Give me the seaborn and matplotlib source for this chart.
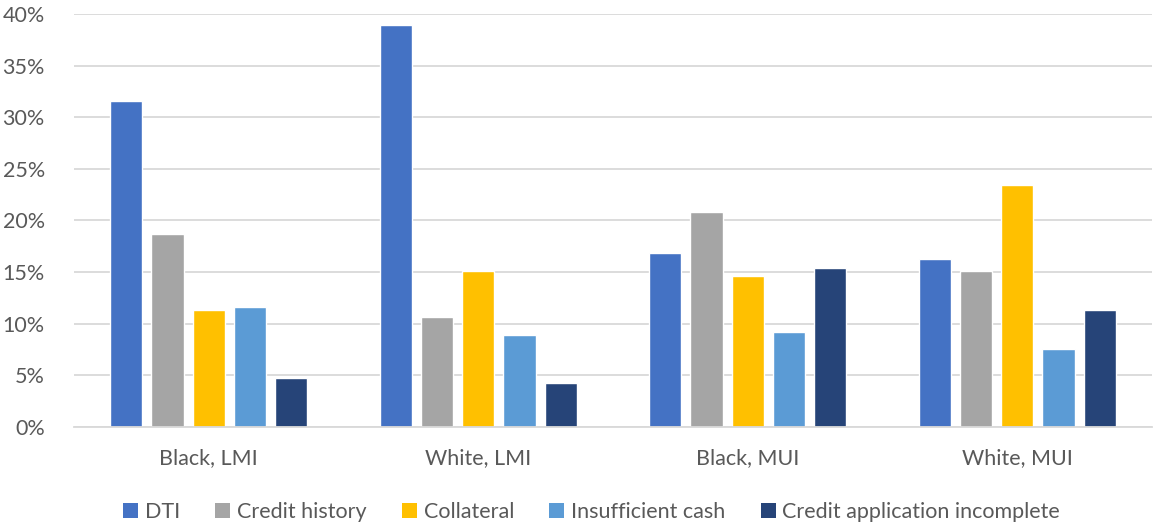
import matplotlib
matplotlib.use("Agg")
import matplotlib.pyplot as plt
import seaborn as sns
import pandas as pd
from matplotlib.ticker import PercentFormatter, MultipleLocator
from matplotlib.patches import Patch

# Datos
groups = ["Black, LMI", "White, LMI", "Black, MUI", "White, MUI"]
reasons = ["DTI", "Credit history", "Collateral", "Insufficient cash",
           "Credit application incomplete"]
dti = [31.6, 38.9, 16.9, 16.3]
credit_history = [18.7, 10.7, 20.8, 15.1]
collateral = [11.3, 15.1, 14.6, 23.4]
insufficient_cash = [11.6, 8.9, 9.2, 7.6]
credit_incomplete = [4.7, 4.3, 15.4, 11.3]

colors = ["#4472C4", "#A5A5A5", "#FFC000", "#5B9BD5", "#264478"]

series = [dti, credit_history, collateral, insufficient_cash, credit_incomplete]
rows = []
for reason, vals in zip(reasons, series):
    for g, v in zip(groups, vals):
        rows.append({"group": g, "reason": reason, "value": v})
df = pd.DataFrame(rows)

sns.set_style("white")
plt.rcParams["font.family"] = ["Lato", "DejaVu Sans"]
text_color = "#595959"

fig = plt.figure(figsize=(11.53, 5.26), dpi=100)
ax = fig.add_axes([74 / 1153, 1 - 427 / 526, 1078 / 1153, 413 / 526])

sns.barplot(data=df, x="group", y="value", hue="reason", order=groups,
            hue_order=reasons, palette=colors, width=0.765, gap=0.22,
            ax=ax, legend=False, saturation=1)

ax.set_ylim(0, 40)
ax.set_xlim(-0.5, 3.5)
ax.yaxis.set_major_locator(MultipleLocator(5))
ax.yaxis.set_major_formatter(PercentFormatter(decimals=0))
ax.grid(axis="y", color="#D9D9D9", linewidth=1.3)
ax.set_axisbelow(True)
for s in ["top", "right", "left"]:
    ax.spines[s].set_visible(False)
ax.spines["bottom"].set_color("#D9D9D9")
ax.spines["bottom"].set_linewidth(1.3)
ax.set_xlabel("")
ax.set_ylabel("")
ax.tick_params(axis="both", length=0, labelsize=15.5, colors=text_color)
ax.tick_params(axis="x", pad=15)
ax.tick_params(axis="y", pad=21)

handles = [Patch(facecolor=c, edgecolor="none") for c in colors]
fig.legend(handles, reasons, loc="lower center", ncol=5, frameon=False,
           bbox_to_anchor=(0.513, -0.03), fontsize=15.5, labelcolor=text_color,
           handlelength=0.7, handleheight=0.7, handletextpad=0.3,
           columnspacing=1.65)

plt.savefig("out.png", dpi=100)
